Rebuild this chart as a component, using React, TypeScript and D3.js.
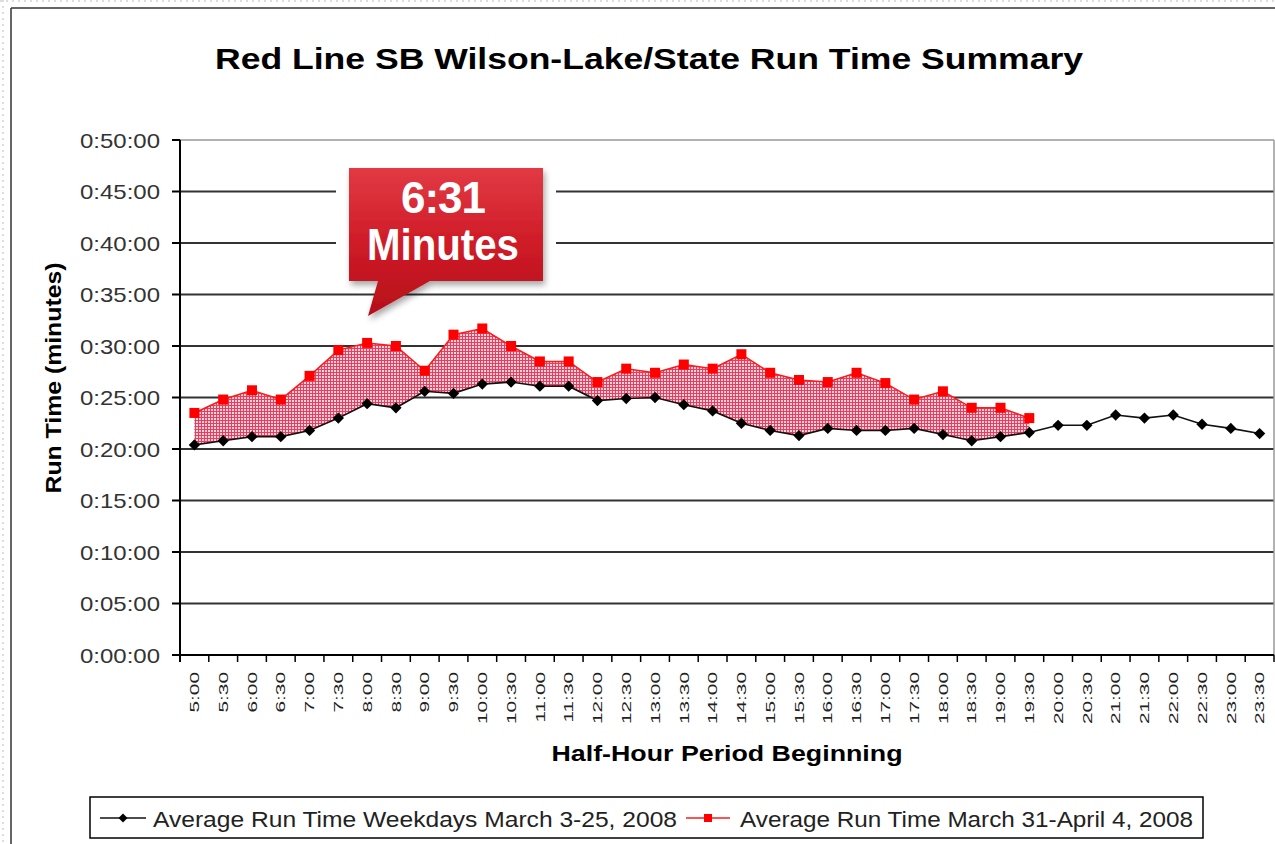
import React from "react";
import * as d3 from "d3";

const periods = [
  "5:00", "5:30", "6:00", "6:30", "7:00", "7:30", "8:00", "8:30", "9:00", "9:30",
  "10:00", "10:30", "11:00", "11:30", "12:00", "12:30", "13:00", "13:30", "14:00", "14:30",
  "15:00", "15:30", "16:00", "16:30", "17:00", "17:30", "18:00", "18:30", "19:00", "19:30",
  "20:00", "20:30", "21:00", "21:30", "22:00", "22:30", "23:00", "23:30",
];

// average run time in minutes
const weekdayMinutes = [
  20.4, 20.8, 21.2, 21.2, 21.8, 23.0, 24.4, 24.0, 25.6, 25.4,
  26.3, 26.5, 26.1, 26.1, 24.7, 24.9, 25.0, 24.3, 23.7, 22.5,
  21.8, 21.3, 22.0, 21.8, 21.8, 22.0, 21.4, 20.8, 21.2, 21.6,
  22.3, 22.3, 23.3, 23.0, 23.3, 22.4, 22.0, 21.5,
];
const springMinutes = [
  23.5, 24.8, 25.7, 24.8, 27.1, 29.6, 30.3, 30.0, 27.6, 31.1,
  31.7, 30.0, 28.5, 28.5, 26.5, 27.8, 27.4, 28.2, 27.8, 29.2,
  27.4, 26.7, 26.5, 27.4, 26.4, 24.8, 25.6, 24.0, 24.0, 23.0,
];

const yTickValues = [0, 5, 10, 15, 20, 25, 30, 35, 40, 45, 50];
const yTickLabels = [
  "0:00:00", "0:05:00", "0:10:00", "0:15:00", "0:20:00", "0:25:00",
  "0:30:00", "0:35:00", "0:40:00", "0:45:00", "0:50:00",
];

const seriesNames = [
  "Average Run Time Weekdays March 3-25, 2008",
  "Average Run Time March 31-April 4, 2008",
];
const calloutText = ["6:31", "Minutes"];

const W = 1275;
const H = 844;
const margin = { top: 140, right: 1, bottom: 189, left: 180 };

export default function App() {
  const x = d3
    .scaleBand<string>()
    .domain(periods)
    .range([margin.left, W - margin.right]);
  const y = d3
    .scaleLinear()
    .domain([0, 50])
    .range([H - margin.bottom, margin.top]);
  const cx = (i: number) => (x(periods[i]) as number) + x.bandwidth() / 2;

  const lineGen = d3
    .line<number>()
    .x((d, i) => cx(i))
    .y((d) => y(d));

  const band = d3
    .area<number>()
    .x((d, i) => cx(i))
    .y0((d, i) => y(weekdayMinutes[i]))
    .y1((d) => y(d));

  const diamond = d3.symbol(d3.symbolSquare, 64)() as string;
  const smallDiamond = d3.symbol(d3.symbolSquare, 40)() as string;

  const x0 = margin.left;
  const x1 = W - margin.right;
  const yBottom = y(0);
  const boundaries = periods.map((p) => x(p) as number).concat([x1]);

  return (
    <svg
      width={W}
      height={H}
      style={{ position: "absolute", left: 0, top: 0, background: "#fff" }}
      fontFamily="'Liberation Sans', Arial, sans-serif"
    >
      <defs>
        <pattern id="hatch" width={3} height={3} patternUnits="userSpaceOnUse">
          <rect width={3} height={3} fill="#f9d3db" />
          <path d="M0 0.5H3M0.5 0V3" stroke="#e8163e" strokeWidth={1} opacity={0.8} />
        </pattern>
        <linearGradient id="calloutFill" x1="0" y1="0" x2="0" y2="1">
          <stop offset="0" stopColor="#e23a44" />
          <stop offset="0.5" stopColor="#cf1c28" />
          <stop offset="1" stopColor="#b50f1a" />
        </linearGradient>
        <filter id="shadow" x="-20%" y="-20%" width="140%" height="150%">
          <feDropShadow dx="2" dy="4" stdDeviation="3" floodColor="#000" floodOpacity="0.35" />
        </filter>
      </defs>

      {/* page artifacts / chart border */}
      <line x1={3} y1={0} x2={3} y2={H} stroke="#ddd" strokeWidth={2} strokeDasharray="2 4" />
      <line x1={0} y1={1} x2={W} y2={1} stroke="#ddd" strokeWidth={2} strokeDasharray="2 4" />
      <line x1={11} y1={8} x2={11} y2={H} stroke="#333" strokeWidth={1.5} />
      <line x1={11} y1={8} x2={W} y2={8} stroke="#333" strokeWidth={1.5} />

      <text
        x={649}
        y={69}
        textAnchor="middle"
        fontSize={30}
        fontWeight="bold"
        textLength={868}
        lengthAdjust="spacingAndGlyphs"
        fill="#000"
      >
        Red Line SB Wilson-Lake/State Run Time Summary
      </text>

      {/* gridlines */}
      {yTickValues.slice(1, -1).map((v) => (
        <line key={v} x1={x0} x2={x1} y1={y(v)} y2={y(v)} stroke="#333" strokeWidth={2} />
      ))}
      {/* plot border top/right */}
      <line x1={x0} x2={x1} y1={y(50)} y2={y(50)} stroke="#999" strokeWidth={1.5} />
      <line x1={x1} x2={x1} y1={y(50)} y2={yBottom} stroke="#999" strokeWidth={1.5} />

      {/* y axis */}
      <line x1={x0} x2={x0} y1={y(50)} y2={yBottom + 7} stroke="#000" strokeWidth={2} />
      {yTickValues.map((v, i) => (
        <g key={v}>
          <line x1={x0 - 8} x2={x0} y1={y(v)} y2={y(v)} stroke="#000" strokeWidth={2} />
          <text
            x={160}
            y={y(v)}
            dy="0.36em"
            textAnchor="end"
            fontSize={21}
            textLength={80}
            lengthAdjust="spacingAndGlyphs"
            fill="#333"
          >
            {yTickLabels[i]}
          </text>
        </g>
      ))}

      {/* x axis */}
      <line x1={x0} x2={x1} y1={yBottom} y2={yBottom} stroke="#000" strokeWidth={2} />
      {boundaries.map((bx, i) => (
        <line key={i} x1={bx} x2={bx} y1={yBottom} y2={yBottom + 7} stroke="#000" strokeWidth={1.5} />
      ))}
      {periods.map((p, i) => (
        <text
          key={p}
          transform={`translate(${cx(i)},${yBottom + 17}) rotate(-90) scale(1.6,1)`}
          dy="0.36em"
          textAnchor="end"
          fontSize={13}
          fill="#222"
        >
          {p}
        </text>
      ))}

      <text
        transform={`translate(61,378) rotate(-90)`}
        textAnchor="middle"
        fontSize={22}
        fontWeight="bold"
        textLength={231}
        lengthAdjust="spacingAndGlyphs"
      >
        Run Time (minutes)
      </text>
      <text
        x={727}
        y={761}
        textAnchor="middle"
        fontSize={22}
        fontWeight="bold"
        textLength={351}
        lengthAdjust="spacingAndGlyphs"
      >
        Half-Hour Period Beginning
      </text>

      {/* difference band */}
      <path d={band(springMinutes) as string} fill="url(#hatch)" stroke="none" />

      {/* series */}
      <path d={lineGen(weekdayMinutes) as string} fill="none" stroke="#111" strokeWidth={1.6} />
      {weekdayMinutes.map((v, i) => (
        <path
          key={i}
          transform={`translate(${cx(i)},${y(v)}) rotate(45)`}
          d={diamond}
          fill="#000"
        />
      ))}
      <path d={lineGen(springMinutes) as string} fill="none" stroke="#ff1a1a" strokeWidth={1.5} />
      {springMinutes.map((v, i) => (
        <rect key={i} x={cx(i) - 5} y={y(v) - 5} width={10} height={10} fill="#ff0000" />
      ))}

      {/* callout */}
      <rect x={336} y={160} width={220} height={128} fill="#fff" />
      <path
        d="M349,168 H543 V281 H430 L368,316 L378,281 H349 Z"
        fill="url(#calloutFill)"
        filter="url(#shadow)"
      />
      <text x={443} y={213} textAnchor="middle" fontSize={44} fontWeight="bold" fill="#fff" letterSpacing={-1}>
        {calloutText[0]}
      </text>
      <text
        x={443}
        y={260}
        textAnchor="middle"
        fontSize={44}
        fontWeight="bold"
        fill="#fff"
        textLength={152}
        lengthAdjust="spacingAndGlyphs"
      >
        {calloutText[1]}
      </text>

      {/* legend */}
      <rect x={90} y={797} width={1113} height={41} fill="#fff" stroke="#000" strokeWidth={1.5} />
      <line x1={100} x2={146} y1={818} y2={818} stroke="#111" strokeWidth={1.6} />
      <path transform="translate(123,818) rotate(45)" d={smallDiamond} fill="#000" />
      <text
        x={153}
        y={827}
        fontSize={22}
        textLength={524}
        lengthAdjust="spacingAndGlyphs"
        fill="#222"
      >
        {seriesNames[0]}
      </text>
      <line x1={686} x2={730} y1={818} y2={818} stroke="#ff1a1a" strokeWidth={1.6} />
      <rect x={704} y={814} width={8} height={8} fill="#ff0000" />
      <text
        x={740}
        y={827}
        fontSize={22}
        textLength={453}
        lengthAdjust="spacingAndGlyphs"
        fill="#222"
      >
        {seriesNames[1]}
      </text>
    </svg>
  );
}
